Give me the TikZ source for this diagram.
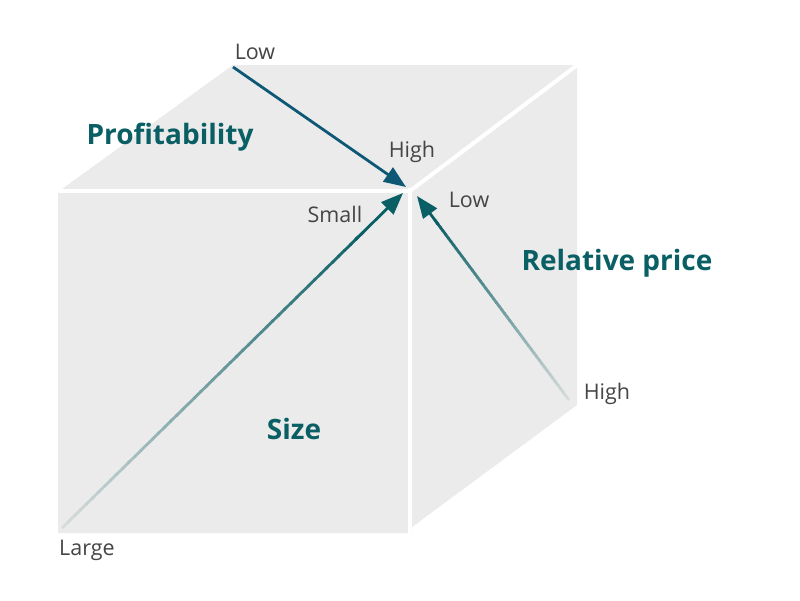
\documentclass[tikz,border=0pt]{standalone}
\usepackage{fontspec}
\setmainfont{Open Sans}
\usetikzlibrary{arrows.meta,calc}
\definecolor{face}{HTML}{EBEBEB}
\definecolor{tealc}{HTML}{0A5F65}
\definecolor{bluec}{HTML}{0E5876}
\definecolor{fadec}{HTML}{D8DDDD}
\definecolor{lbl}{HTML}{454545}
\tikzset{
 lab/.style={text=lbl,font=\fontsize{21.5}{25}\selectfont,inner sep=0pt},
 ttl/.style={text=tealc,font=\bfseries\fontsize{28}{33}\selectfont,inner sep=0pt},
 gap/.style={draw=white,line width=4pt},
 tipa/.style={-{Triangle[length=22pt,width=17pt]}},
 shaft/.style={line width=2.8pt},
}
\begin{document}
\begin{tikzpicture}[x=1pt,y=-1pt]
\useasboundingbox[fill=white] (0,0) rectangle (800,600);
% cube body
\fill[face] (58,533) -- (412,533) -- (412,527) -- (577,405) -- (577,65) -- (233,65) -- (58,192) -- cycle;
\coordinate (c) at (410,191);
\coordinate (hl) at (56,191);
\coordinate (vb) at (410,540);
\coordinate (dr) at (580,63);
\draw[gap] (hl) -- (c);
\draw[gap] (410,188) -- (vb);
\draw[gap] (c) -- (dr);
% arrow endpoints
\coordinate (s1) at (233,67);
\coordinate (e1) at (406,187);
\coordinate (s2) at (62,528);
\coordinate (e2) at (403,193);
\coordinate (s3) at (569,400);
\coordinate (e3) at (417,196);
% arrow 1 (solid)
\draw[shaft,tipa,bluec] (s1) -- (e1);
% gradient arrows
\foreach \s/\e in {s2/e2,s3/e3}{
  \foreach \i in {0,...,49}{
    \pgfmathsetmacro\fa{\i/50*0.88}
    \pgfmathsetmacro\fb{(\i+1)/50*0.88+0.004}
    \pgfmathsetmacro\p{100*(\i+0.5)/50}
    \draw[shaft,color=tealc!\p!fadec] ($(\s)!\fa!(\e)$) -- ($(\s)!\fb!(\e)$);
  }
  \draw[shaft,tipa,tealc] ($(\s)!0.86!(\e)$) -- (\e);
}
% labels
\node[lab] (low1) at (255,51.5) {Low};
\node[lab] (high1) at (412,151.5) {High};
\node[lab] (small) at (335,214.5) {Small};
\node[lab] (low2) at (469,199.5) {Low};
\node[lab] (high2) at (607,393.5) {High};
\node[lab] (large) at (87,550.5) {Large};
\node[ttl] (prof) at (170,137) {Profitability};
\node[ttl] (rel) at (617,263) {Relative price};
\node[ttl] (size) at (294,429) {Size};
\end{tikzpicture}
\end{document}
